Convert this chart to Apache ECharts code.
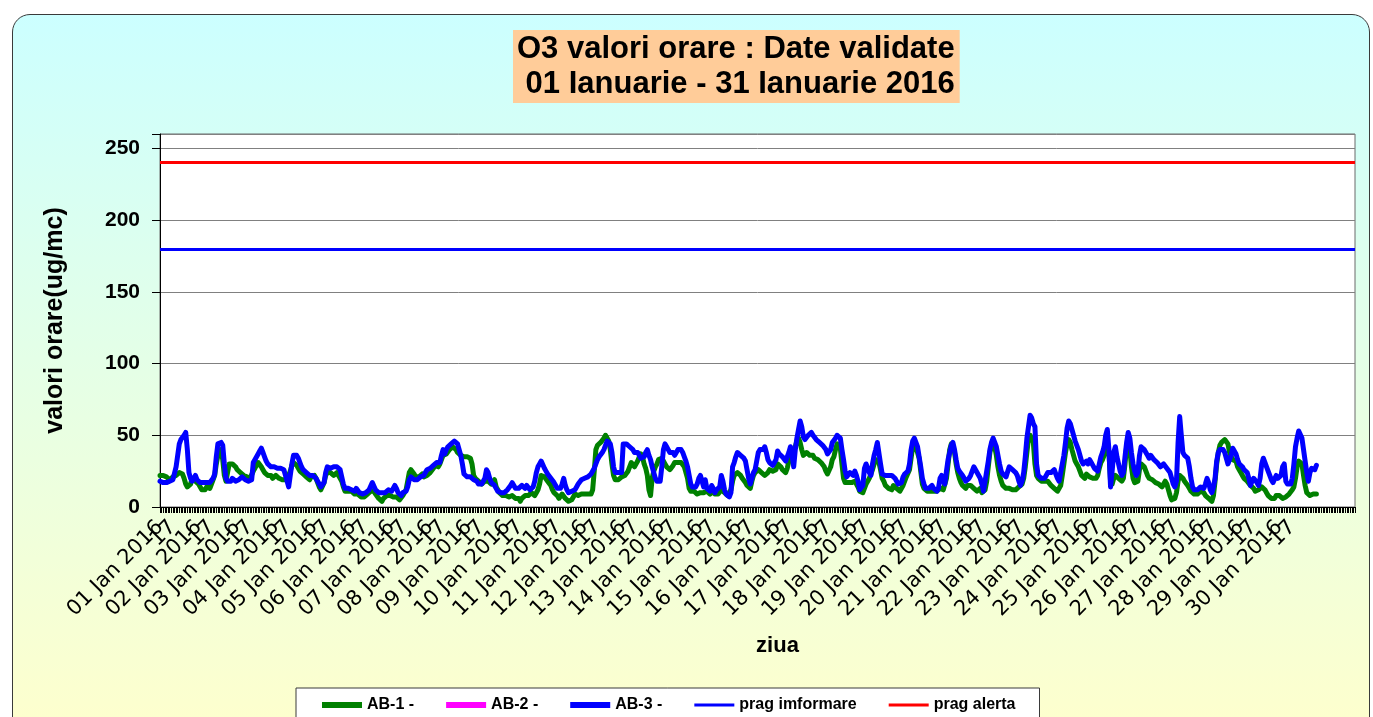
<!DOCTYPE html>
<html>
<head>
<meta charset="utf-8">
<title>O3 valori orare</title>
<script src="https://cdn.jsdelivr.net/npm/echarts@6/dist/echarts.min.js"></script>
<style>
  html, body { margin: 0; padding: 0; background: #fff; overflow: hidden; }
  #fundal {
    position: absolute; left: 12px; top: 14px; width: 1356px; height: 730px;
    border: 1.5px solid #3a3a3a; border-radius: 18px;
    background: linear-gradient(#ccffff, #ffffcc);
  }
  #grafic { position: absolute; left: 0; top: 0; width: 1373px; height: 717px; }
</style>
</head>
<body>
<div id="fundal"></div>
<div id="grafic"></div>
<script>
// zilele de pe axa x (31 zile x 24 ore)
const zile = ['01 Jan 2016','02 Jan 2016','03 Jan 2016','04 Jan 2016','05 Jan 2016','06 Jan 2016',
  '07 Jan 2016','08 Jan 2016','09 Jan 2016','10 Jan 2016','11 Jan 2016','12 Jan 2016','13 Jan 2016',
  '14 Jan 2016','15 Jan 2016','16 Jan 2016','17 Jan 2016','18 Jan 2016','19 Jan 2016','20 Jan 2016',
  '21 Jan 2016','22 Jan 2016','23 Jan 2016','24 Jan 2016','25 Jan 2016','26 Jan 2016','27 Jan 2016',
  '28 Jan 2016','29 Jan 2016','30 Jan 2016','31 Jan 2016'];
const zileEtichetate = 30;  // ultima zi (31 Jan) nu are eticheta
const oraEticheta = 8;      // pozitia etichetei "17" in cadrul zilei
const textOra = '17';

// valori orare O3 (ug/mc), cate 24 pe zi
const ab1 = [
  22,23,22,21,21,20,19,20,21,22,22,23,24,24,23,20,16,14,13,16,20,19,18,17,
  16,14,12,13,12,14,15,13,16,17,22,30,36,38,40,33,22,18,24,30,31,30,29,28,
  26,25,24,23,22,21,21,20,20,21,25,27,29,31,30,28,26,24,23,22,21,22,20,20,
  22,21,20,19,19,18,19,20,22,25,29,31,30,29,27,25,24,23,22,21,20,19,21,22,
  22,20,17,14,12,13,17,22,24,25,24,23,22,23,24,22,20,18,14,11,10,11,12,11,
  10,9,8,9,8,7,8,7,8,9,10,11,12,11,9,8,6,5,4,6,7,8,9,8,
  8,7,6,7,6,5,6,8,9,12,18,24,26,25,23,21,20,21,22,23,21,20,22,23,
  24,25,27,29,30,28,30,33,36,35,37,38,40,41,42,41,40,38,37,36,36,35,35,35,
  35,34,30,22,20,19,18,17,16,16,18,19,18,17,16,17,19,14,12,10,9,8,7,8,
  8,7,6,8,7,6,5,6,4,6,7,8,9,8,7,10,9,8,10,12,16,22,23,21,
  20,18,17,15,12,10,9,8,6,7,9,8,6,5,4,3,5,7,9,9,8,9,9,9,
  9,10,9,9,9,12,25,40,43,44,45,46,48,50,49,46,40,30,22,19,18,19,20,21,
  21,22,23,25,28,31,30,28,27,32,35,37,35,30,27,22,12,8,20,25,28,30,33,32,
  34,32,30,28,27,26,27,29,31,30,31,32,31,30,28,27,20,13,11,10,11,10,9,10,
  10,11,10,9,11,10,9,10,11,9,10,9,10,12,11,10,9,8,9,12,18,22,23,24,
  24,22,20,19,17,15,14,13,18,22,24,25,26,25,24,23,22,23,24,26,27,25,24,26,
  30,29,28,26,25,24,27,32,35,37,38,42,46,48,45,40,36,37,38,37,36,35,36,34,
  34,33,32,31,30,28,25,23,22,28,33,35,40,44,45,41,30,20,17,16,17,18,17,16,
  18,16,14,11,10,10,13,16,18,20,23,26,30,33,32,31,26,20,18,15,14,13,12,12,
  15,14,13,12,11,12,15,18,21,22,26,34,42,44,43,38,34,25,16,13,12,11,10,11,
  12,11,10,11,12,13,14,12,13,20,30,40,44,45,38,30,24,20,17,15,14,13,15,14,
  15,14,13,12,11,12,13,10,9,12,18,28,38,43,45,42,36,28,22,18,15,14,13,12,
  13,12,12,11,12,13,14,15,16,20,28,38,48,50,49,45,30,22,20,19,18,19,18,18,
  18,17,15,14,13,12,11,12,15,22,30,38,44,47,45,40,36,32,30,28,25,22,21,20,
  23,22,21,20,20,19,20,22,27,31,33,36,42,46,38,18,16,20,22,21,20,19,18,20,
  30,42,45,40,28,20,17,16,18,26,30,29,28,25,22,20,21,19,18,17,18,16,15,14,
  16,18,16,12,8,5,4,6,10,18,22,23,20,18,17,15,13,11,10,9,8,9,10,11,
  12,10,8,7,6,5,4,8,18,30,38,43,45,46,47,48,44,38,35,33,34,32,28,26,
  24,22,20,19,18,17,15,16,13,11,10,12,13,14,13,12,10,8,7,6,5,6,8,7,
  8,7,6,5,7,8,9,10,12,14,20,28,32,33,30,22,15,10,9,8,8,9,8,9
];
const ab2 = [];
const ab3 = [
  18,17,17,18,17,18,18,18,19,20,28,36,44,47,48,50,52,40,24,20,18,19,22,19,
  18,17,16,17,18,17,16,17,18,20,23,35,44,45,45,43,30,20,18,17,18,20,19,18,
  19,19,20,21,20,19,18,18,19,19,31,33,34,37,39,41,38,35,32,30,29,28,29,28,
  28,27,28,27,27,26,22,18,14,22,30,36,37,36,34,31,28,26,25,24,23,22,23,22,
  21,20,18,16,14,13,17,24,28,28,27,28,28,27,28,27,26,25,16,13,12,13,12,12,
  12,11,13,12,10,11,9,10,10,11,12,13,17,16,12,11,10,11,10,9,10,11,12,11,
  11,13,15,13,10,9,8,10,9,11,14,19,21,20,19,20,19,20,21,20,22,24,26,27,
  27,28,29,30,31,30,31,36,40,37,40,42,43,44,45,46,45,44,40,36,30,23,22,21,
  22,21,20,19,18,18,16,17,16,15,20,26,24,20,17,16,15,13,11,12,10,9,10,11,
  12,13,15,17,15,13,12,13,14,15,14,13,15,14,12,13,14,18,24,28,30,32,31,27,
  25,23,22,20,19,17,15,13,14,13,16,20,15,12,10,9,11,10,12,14,16,17,19,20,
  20,21,21,22,23,24,27,30,33,35,36,38,40,43,46,47,44,38,28,24,25,24,25,24,
  44,45,44,43,42,41,40,38,37,38,36,34,33,35,38,40,36,33,28,24,20,18,17,18,
  28,40,44,42,40,38,37,38,36,38,40,41,40,38,35,32,28,22,16,14,15,14,16,20,
  22,18,14,19,13,12,11,15,13,10,12,11,14,22,18,12,9,8,7,10,28,31,35,38,
  37,36,35,34,32,26,20,16,20,24,26,32,38,40,41,40,42,38,33,31,30,29,31,33,
  39,37,36,35,34,32,31,38,42,36,28,40,48,54,60,56,49,47,48,50,51,52,50,49,
  47,46,45,44,43,42,40,37,36,40,45,46,48,50,51,48,40,33,25,21,22,24,23,22,
  25,22,18,12,11,15,27,30,29,24,22,30,36,40,45,44,30,23,22,22,21,22,23,22,
  21,20,18,16,15,17,21,23,24,25,30,40,46,48,47,42,35,28,20,16,13,12,13,14,
  15,13,12,11,13,20,22,18,16,25,33,38,43,45,40,33,27,25,24,22,20,18,17,20,
  22,25,28,27,24,23,20,16,11,18,25,32,40,45,48,47,42,36,30,25,23,22,21,22,
  28,27,26,25,24,22,18,15,18,24,35,48,56,64,62,58,56,30,22,21,20,21,20,22,
  24,25,24,25,26,23,20,18,24,30,36,45,55,60,58,54,50,46,43,40,36,32,30,29,
  32,30,33,31,29,27,26,25,30,35,38,42,50,54,40,14,25,38,42,35,30,25,22,24,
  35,45,52,48,38,30,25,22,24,36,42,43,40,38,36,34,36,35,33,32,31,30,28,27,
  30,29,27,26,24,20,16,14,18,45,63,50,38,36,35,34,28,20,14,12,11,12,13,14,
  14,13,16,20,17,12,10,14,20,32,38,40,41,40,38,34,30,33,36,41,40,37,33,30,
  30,28,26,25,24,20,15,18,20,19,17,15,20,30,34,33,28,25,22,19,17,18,22,20,
  20,22,28,30,18,16,15,16,20,30,42,48,53,52,48,40,32,24,18,24,27,28,26,29
];
const pragInformare = 180;
const pragAlerta = 240;

// categorii orare
const categorii = [];
for (let z = 0; z < zile.length; z++) {
  for (let h = 0; h < 24; h++) {
    categorii.push(zile[z] + ' ' + String(h + 1).padStart(2, '0'));
  }
}

const arial = "'Liberation Sans', Arial, sans-serif";
const liniaGroasa = 'path://M0,0H40V6H0Z';
const liniaSubtire = 'path://M0,0H40V3H0Z';

function eEticheta(i) {
  if (Math.floor(i / 24) >= zileEtichetate) return false;
  return i % 24 === 0 || i % 24 === oraEticheta;
}

const chart = echarts.init(document.getElementById('grafic'));
chart.setOption({
  backgroundColor: 'transparent',
  animation: false,
  title: {
    text: 'O3 valori orare : Date validate\n 01 Ianuarie - 31 Ianuarie 2016',
    left: 513,
    top: 30,
    backgroundColor: '#ffcc99',
    padding: [2, 5, 1, 4],
    textStyle: {
      fontFamily: arial,
      fontWeight: 'bold',
      fontSize: 31,
      lineHeight: 35,
      color: '#000'
    }
  },
  legend: {
    left: 296,
    top: 688,
    padding: [9, 24, 16, 26],
    itemWidth: 40,
    itemHeight: 10,
    itemGap: 32,
    backgroundColor: '#fff',
    borderColor: '#3a3a3a',
    borderWidth: 1,
    textStyle: { fontFamily: arial, fontWeight: 'bold', fontSize: 16, color: '#000' },
    data: [
      { name: 'AB-1 -', icon: liniaGroasa },
      { name: 'AB-2 -', icon: liniaGroasa },
      { name: 'AB-3 -', icon: liniaGroasa },
      { name: 'prag imformare', icon: liniaSubtire },
      { name: 'prag alerta', icon: liniaSubtire }
    ]
  },
  grid: {
    left: 160,
    right: 18,
    top: 134,
    bottom: 210,
    show: true,
    backgroundColor: '#fff',
    borderColor: '#6a6a6a',
    borderWidth: 1
  },
  xAxis: {
    type: 'category',
    data: categorii,
    boundaryGap: false,
    axisLine: { lineStyle: { color: '#000', width: 1 } },
    axisTick: { show: true, interval: 0, length: 6, lineStyle: { color: '#000' } },
    axisLabel: {
      interval: 0,
      formatter: function (v, i) {
        if (!eEticheta(i)) return '';
        if (i % 24 === 0) return zile[Math.floor(i / 24)];
        return textOra;
      },
      showMinLabel: true,
      showMaxLabel: true,
      hideOverlap: false,
      rotate: 45,
      margin: 17,
      fontFamily: "'DejaVu Sans', sans-serif",
      fontSize: 21,
      color: '#000'
    },
    splitLine: { show: false },
    name: 'ziua',
    nameLocation: 'middle',
    nameGap: 128,
    nameTextStyle: { fontFamily: arial, fontWeight: 'bold', fontSize: 22, color: '#000', padding: [0, 0, 0, 40] }
  },
  yAxis: {
    type: 'value',
    min: 0,
    max: 260,
    interval: 50,
    axisLine: { show: true, lineStyle: { color: '#000' } },
    axisTick: { show: true, length: 8, lineStyle: { color: '#000' } },
    axisLabel: {
      formatter: function (v) { return v % 50 === 0 ? String(v) : ''; },
      margin: 20,
      fontFamily: arial,
      fontWeight: 'bold',
      fontSize: 21,
      color: '#000'
    },
    splitLine: { lineStyle: { color: '#808080', width: 1 } },
    name: 'valori orare(ug/mc)',
    nameLocation: 'middle',
    nameGap: 92,
    nameTextStyle: { fontFamily: arial, fontWeight: 'bold', fontSize: 25, color: '#000' }
  },
  series: [
    {
      name: 'AB-1 -', type: 'line', data: ab1, symbol: 'none', z: 2,
      lineStyle: { color: '#008000', width: 5, join: 'round', cap: 'round' },
      itemStyle: { color: '#008000' }
    },
    {
      name: 'AB-2 -', type: 'line', data: ab2, symbol: 'none',
      lineStyle: { color: '#ff00ff', width: 5 },
      itemStyle: { color: '#ff00ff' }
    },
    {
      name: 'AB-3 -', type: 'line', data: ab3, symbol: 'none', z: 3,
      lineStyle: { color: '#0000ff', width: 5, join: 'round', cap: 'round' },
      itemStyle: { color: '#0000ff' }
    },
    {
      name: 'prag imformare', type: 'line', data: [], symbol: 'none',
      lineStyle: { color: '#0000ff', width: 3 },
      itemStyle: { color: '#0000ff' },
      markLine: {
        silent: true, symbol: 'none', label: { show: false },
        lineStyle: { color: '#0000ff', width: 3, type: 'solid' },
        data: [{ yAxis: pragInformare }]
      }
    },
    {
      name: 'prag alerta', type: 'line', data: [], symbol: 'none',
      lineStyle: { color: '#ff0000', width: 3 },
      itemStyle: { color: '#ff0000' },
      markLine: {
        silent: true, symbol: 'none', label: { show: false },
        lineStyle: { color: '#ff0000', width: 3, type: 'solid' },
        data: [{ yAxis: pragAlerta }]
      }
    }
  ]
});
</script>
</body>
</html>
